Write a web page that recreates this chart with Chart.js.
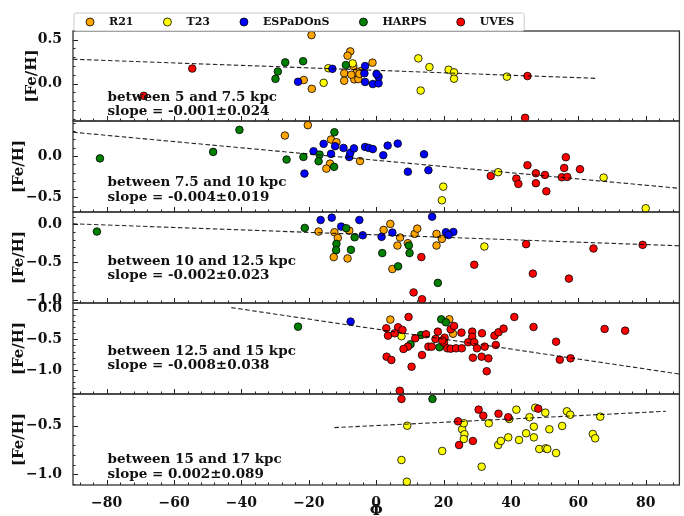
<!DOCTYPE html>
<html>
<head>
<meta charset="utf-8">
<script src="https://cdn.jsdelivr.net/npm/chart.js@4.4.1/dist/chart.umd.min.js"></script>
<style>
  body { margin: 0; background: #fff; }
  #wrap { position: relative; width: 684px; height: 516px; }
  #wrap canvas { position: absolute; left: 0; top: 0; }
</style>
</head>
<body>
<div id="wrap"></div>
<script>
// Galactocentric radius bins, one panel each
const binLabels = ['between 5 and 7.5 kpc', 'between 7.5 and 10 kpc', 'between 10 and 12.5 kpc',
                   'between 12.5 and 15 kpc', 'between 15 and 17 kpc'];
const slopeLabels = ['slope = -0.001±0.024', 'slope = -0.004±0.019', 'slope = -0.002±0.023',
                     'slope = -0.008±0.038', 'slope = 0.002±0.089'];

// [phi, [Fe/H]] per survey, one list per radius bin
const R21 = [
  [[-19.2,0.55],[-21.5,0.04],[-19.1,-0.06],[-7.7,0.365],[-8.5,0.316],[-9.5,0.116],[-9.5,0.032],[-1.1,0.237],
   [-6.5,0.047],[-5.3,0.05],[-4.5,0.142],[-5.8,0.134],[-6.8,0.2],[-7.4,0.1],[-5.0,0.11]],
  [[-27.1,0.245],[-20.3,0.37],[-13.4,0.197],[-11.8,0.165],[-13.7,-0.093],[-14.8,-0.153],[-4.8,-0.062]],
  [[-17.1,-0.094],[-12.4,-0.103],[-11.4,-0.178],[-8,-0.081],[-12.6,-0.432],[-8.5,-0.45],[2.2,-0.072],[4.2,0.007],
   [4.8,-0.59],[7.1,-0.173],[6.3,-0.279],[9.4,-0.248],[11.4,-0.125],[12.2,-0.055],[17.9,-0.125],[19.5,-0.191],[17.9,-0.279]],
  [[4.2,-0.18],[21.7,-0.175],[22.8,-0.41]],
  []
];
const T23 = [
  [[-15.6,0.008],[-14.2,0.174],[-7,0.229],[12.5,0.286],[15.8,0.187],[13.2,-0.08],[21.5,0.157],[23.1,0.127],
   [23.1,0.055],[38.8,0.078]],
  [[36.2,-0.196],[19.9,-0.37],[19.5,-0.534],[67.5,-0.261],[80,-0.63]],
  [[32.1,-0.292]],
  [[7.5,-0.45]],
  [[9.2,-0.5],[7.5,-0.853],[9.1,-1.076],[19.6,-0.76],[31.3,-0.922],[25.5,-0.537],[26,-0.475],[26.2,-0.588],
   [26,-0.637],[33.4,-0.475],[36.2,-0.699],[37,-0.657],[39.2,-0.62],[39.5,-0.431],[41.6,-0.335],[42.4,-0.647],
   [44.5,-0.578],[45.5,-0.413],[46.8,-0.51],[46.8,-0.62],[47.2,-0.315],[48.4,-0.74],[50.2,-0.366],[50.3,-0.733],
   [50.8,-0.74],[51.4,-0.537],[53.4,-0.781],[55.2,-0.503],[56.6,-0.352],[57.6,-0.387],[64.3,-0.585],[65,-0.63],
   [66.5,-0.407]]
];
const ESPaDOnS = [
  [[-23.2,0.02],[-13,0.167],[-3.3,0.199],[-3.5,0.116],[-3.3,0.017],[-1,-0.006],[0.7,0.002],[0.7,0.078],[0.1,0.108]],
  [[-21.3,-0.213],[-18.6,0.056],[-15.6,0.145],[-13.4,0.024],[-12.2,0.117],[-9.7,0.096],[-8,-0.014],[-7.7,0.036],
   [-6.6,0.09],[-3.3,0.108],[-2.2,0.096],[-1,0.082],[2.1,0.008],[3.4,0.124],[6.4,0.148],[14.2,0.02],[9.4,-0.19],[15.5,-0.172]],
  [[-16.5,0.059],[-13.2,0.09],[-10.4,-0.028],[-5,0.059],[-4,-0.143],[1.6,-0.164],[4.8,-0.108],[16.6,0.103],
   [20.7,-0.103],[22.9,-0.099],[21.5,-0.14]],
  [[-7.6,-0.213]],
  []
];
const HARPS = [
  [[-27,0.24],[-29.2,0.136],[-29.9,0.053],[-21.7,0.254],[-9,0.21]],
  [[-82,-0.03],[-48.4,0.048],[-40.6,0.313],[-26.6,-0.044],[-21.6,-0.012],[-16.8,0.016],[-17.1,-0.064],[-12.4,0.285],[-12.5,-0.132]],
  [[-82.9,-0.094],[-21.2,-0.046],[-8.9,-0.05],[-6.4,-0.17],[-11.8,-0.257],[-11.9,-0.34],[-7.5,-0.336],[1.8,-0.379],
   [9.7,-0.279],[9.9,-0.379],[6.5,-0.555],[18.3,-0.774]],
  [[-23.2,-0.295],[19.3,-0.175],[20.7,-0.224],[13.3,-0.43],[10.2,-0.58],[18.8,-0.63]],
  [[16.7,-0.225]]
];
const UVES = [
  [[-54.6,0.17],[-69,-0.14],[44.9,0.085],[44.2,-0.39]],
  [[34,-0.241],[41.6,-0.273],[42.2,-0.337],[44.9,-0.112],[47.4,-0.209],[47.4,-0.329],[50.1,-0.229],[50.5,-0.426],
   [55.1,-0.257],[56.3,-0.016],[55.8,-0.145],[56.7,-0.253],[60.5,-0.16]],
  [[13.4,-0.432],[29.1,-0.533],[44.5,-0.261],[46.5,-0.651],[57.2,-0.717],[64.5,-0.318],[79.1,-0.27],[11.1,-0.9],[13.6,-0.99]],
  [[9.6,-0.137],[3,-0.321],[3.5,-0.441],[6.5,-0.305],[7.8,-0.349],[5.5,-0.402],[11.6,-0.484],[14.8,-0.419],[9.4,-0.62],
   [8.1,-0.658],[15.5,-0.62],[3.1,-0.783],[4.5,-0.837],[13.6,-0.756],[10.5,-0.946],[7,-1.337],[18.3,-0.376],[17.6,-0.495],
   [20.3,-0.474],[20.1,-0.555],[22.1,-0.337],[23.1,-0.283],[25.3,-0.392],[21.1,-0.647],[22.1,-0.653],[23.7,-0.647],
   [25.4,-0.647],[28.5,-0.376],[28.5,-0.458],[27.3,-0.549],[29.1,-0.549],[29.9,-0.647],[31.4,-0.402],[32.2,-0.62],
   [28.7,-0.8],[31.3,-0.783],[33.3,-0.81],[32.8,-1.02],[35.1,-0.441],[36.3,-0.386],[37.8,-0.327],[35.5,-0.593],
   [41,-0.137],[46.7,-0.3],[53.4,-0.539],[54.5,-0.832],[57.7,-0.81],[67.8,-0.332],[73.9,-0.36],[19.6,-0.52],[16.5,-0.62]],
  [[7.5,-0.225],[30.4,-0.335],[31.8,-0.397],[36.3,-0.377],[39.2,-0.413],[24.3,-0.455],[24.6,-0.699],[28.7,-0.657],[48.1,-0.325]]
];

// linear fit end points per bin
const fitLines = [
  [[-90,0.276],[65,0.059]],
  [[-90,0.285],[90,-0.39]],
  [[-90,0.009],[90,-0.283]],
  [[-43,0.015],[90,-1.065]],
  [[-12.4,-0.52],[86,-0.352]]
];

const xTicks = [-80, -60, -40, -20, 0, 20, 40, 60, 80];
const yTicks = [[0.0, 0.5], [-0.5, 0.0], [-1.0, -0.5, 0.0], [-1.0, -0.5, 0.0], [-1.0, -0.5]];
const yRanges = [[-0.426, 0.597], [-0.675, 0.42], [-1.04, 0.165], [-1.39, 0.09], [-1.11, -0.174]];

const surveys = [
  { name: 'R21', pts: R21, color: '#ffa500' },
  { name: 'T23', pts: T23, color: '#ffff00' },
  { name: 'ESPaDOnS', pts: ESPaDOnS, color: '#0000ff' },
  { name: 'HARPS', pts: HARPS, color: '#008000' },
  { name: 'UVES', pts: UVES, color: '#ff0000' }
];

// panel geometry (pixels)
const W = 684, H = 516;
const panelTop = [31, 121, 212, 303, 394];
const panelBottom = [121, 212, 303, 394, 485];
const textTop = [[66, 80.5], [61, 76], [49, 63.5], [48, 62.5], [65, 80]];
const titlePad = [23, 10, 10, 10, 10];
const serif = "'DejaVu Serif', 'Liberation Serif', serif";

function fmt(v, digits) {
  const s = Math.abs(v).toFixed(digits);
  return (v < -1e-9 ? '\u2212' : '') + s;
}

// frame, inward ticks and the bin text
const panelDecor = {
  id: 'panelDecor',
  beforeDatasetsDraw(chart, args, opts) {
    const { ctx, chartArea: a, scales: { x, y } } = chart;
    ctx.save();
    ctx.strokeStyle = '#222';
    ctx.lineWidth = 1;
    ctx.beginPath();
    for (let v = -88; v <= 88; v += 4) {
      const px = Math.round(x.getPixelForValue(v)) + 0.5;
      const len = v % 20 === 0 ? 5 : 2.5;
      ctx.moveTo(px, a.bottom);
      ctx.lineTo(px, a.bottom - len);
    }
    for (let k = Math.ceil(y.min * 10 - 1e-6); k <= Math.floor(y.max * 10 + 1e-6); k++) {
      const py = Math.round(y.getPixelForValue(k / 10)) + 0.5;
      const len = k % 5 === 0 ? 5 : 2.5;
      ctx.moveTo(a.left, py);
      ctx.lineTo(a.left + len, py);
    }
    ctx.stroke();
    ctx.strokeStyle = '#333';
    ctx.lineWidth = 1.3;
    ctx.strokeRect(a.left, a.top, a.right - a.left, a.bottom - a.top);
    ctx.restore();
  },
  afterDraw(chart, args, opts) {
    const { ctx, chartArea: a } = chart;
    ctx.save();
    ctx.fillStyle = '#111';
    ctx.font = 'bold 13.5px ' + serif;
    ctx.textBaseline = 'middle';
    ctx.fillText(opts.lines[0], a.left + 34.5, a.top + opts.offsets[0]);
    ctx.fillText(opts.lines[1], a.left + 34.5, a.top + opts.offsets[1]);
    ctx.restore();
  }
};

// legend row above the first panel
const surveyLegend = {
  id: 'surveyLegend',
  afterDraw(chart, args, opts) {
    if (!opts.show) return;
    const { ctx, chartArea: a } = chart;
    const items = chart.data.datasets.filter(d => d.label);
    ctx.save();
    const top = 13, h = 18, left = a.left + 1;
    ctx.font = 'bold 11px ' + serif;
    let x = left + 16;
    const pos = items.map(d => {
      const p = { d, mx: x, tx: x + 19 };
      x += 19 + ctx.measureText(d.label).width + 34;
      return p;
    });
    const right = x - 34 + 10;
    ctx.fillStyle = 'rgba(255,255,255,0.9)';
    ctx.strokeStyle = '#cccccc';
    ctx.lineWidth = 1;
    ctx.beginPath();
    ctx.roundRect(left, top, right - left, h, 2);
    ctx.fill();
    ctx.stroke();
    ctx.textBaseline = 'middle';
    pos.forEach(p => {
      ctx.beginPath();
      ctx.arc(p.mx, top + h / 2, 4, 0, Math.PI * 2);
      ctx.fillStyle = p.d.backgroundColor;
      ctx.fill();
      ctx.lineWidth = 0.8;
      ctx.strokeStyle = '#000';
      ctx.stroke();
      ctx.fillStyle = '#111';
      ctx.fillText(p.d.label, p.tx, top + h / 2 + 0.5);
    });
    ctx.restore();
  }
};

const wrap = document.getElementById('wrap');

for (let i = 0; i < 5; i++) {
  const last = i === 4;
  const canvas = document.createElement('canvas');
  canvas.width = W;
  canvas.height = H;
  wrap.appendChild(canvas);

  const datasets = surveys.map((s, k) => ({
    label: s.name,
    data: s.pts[i].map(p => ({ x: p[0], y: p[1] })),
    backgroundColor: s.color,
    borderColor: '#000',
    borderWidth: 0.8,
    pointRadius: 3.8,
    pointHoverRadius: 3.8,
    order: 5 - k,
    clip: false
  }));
  datasets.push({
    data: fitLines[i].map(p => ({ x: p[0], y: p[1] })),
    showLine: true,
    pointRadius: 0,
    borderColor: 'rgba(0,0,0,0.85)',
    borderWidth: 1.1,
    borderDash: [4.5, 2.5],
    order: 0,
    clip: false
  });

  new Chart(canvas.getContext('2d'), {
    type: 'scatter',
    data: { datasets },
    options: {
      responsive: false,
      animation: false,
      devicePixelRatio: 1,
      events: [],
      layout: { padding: { top: panelTop[i], bottom: last ? 0 : H - panelBottom[i], left: 0, right: 1 } },
      plugins: {
        legend: { display: false },
        tooltip: { enabled: false },
        panelDecor: { lines: [binLabels[i], slopeLabels[i]], offsets: textTop[i] },
        surveyLegend: { show: i === 0 }
      },
      scales: {
        x: {
          type: 'linear',
          min: -90,
          max: 90,
          display: last,
          afterBuildTicks: s => { s.ticks = xTicks.map(v => ({ value: v })); },
          afterFit: s => { s.height = last ? H - panelBottom[4] : 0; },
          grid: { display: false },
          border: { display: false },
          ticks: {
            autoSkip: false,
            maxRotation: 0,
            padding: 2,
            color: '#111',
            font: { family: serif, size: 14, weight: 'bold' },
            callback: v => fmt(v, 0)
          },
          title: {
            display: true,
            text: 'Φ',
            color: '#111',
            padding: { top: 0, bottom: -4 },
            font: { family: serif, size: 15, weight: 'bold' }
          }
        },
        y: {
          type: 'linear',
          min: yRanges[i][0],
          max: yRanges[i][1],
          afterBuildTicks: s => { s.ticks = yTicks[i].map(v => ({ value: v })); },
          afterFit: s => { s.width = 73; },
          grid: { display: false },
          border: { display: false },
          ticks: {
            autoSkip: false,
            padding: 3,
            color: '#111',
            font: { family: serif, size: 14, weight: 'bold' },
            callback: v => fmt(v, 1)
          },
          title: {
            display: true,
            text: '[Fe/H]',
            color: '#111',
            padding: { top: titlePad[i], bottom: 0 },
            font: { family: serif, size: 15, weight: 'bold' }
          }
        }
      }
    },
    plugins: [panelDecor, surveyLegend]
  });
}
</script>
</body>
</html>
